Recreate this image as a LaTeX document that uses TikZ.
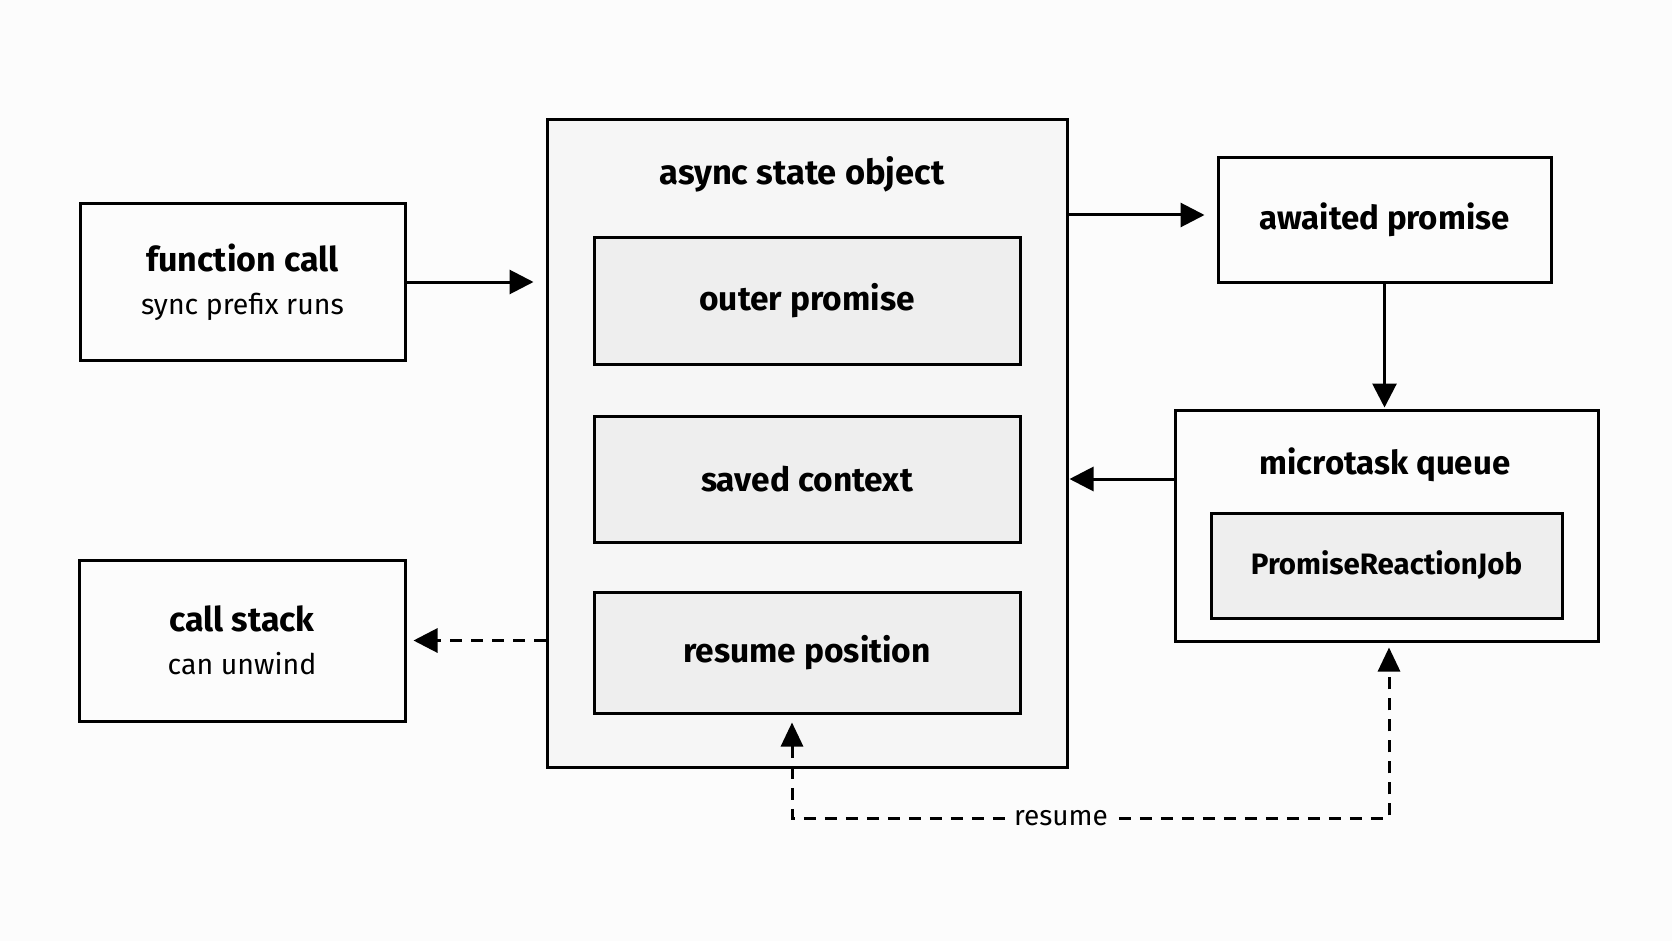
\documentclass[tikz,border=0pt]{standalone}
\usepackage{fontspec}
\setmainfont{Fira Sans}
\usetikzlibrary{arrows.meta}
\definecolor{bgc}{HTML}{FCFCFC}
\definecolor{outerfill}{HTML}{F6F6F6}
\definecolor{innerfill}{HTML}{EEEEEE}
\tikzset{
  box/.style={draw=black, line width=3pt, rectangle, inner sep=0pt, fill=bgc},
  bigbox/.style={box, fill=outerfill},
  innerbox/.style={box, fill=innerfill, font=\fontsize{33.5}{40}\selectfont\bfseries},
  titletext/.style={font=\fontsize{34.5}{40}\selectfont\bfseries, inner sep=0pt},
  twoline/.style={box, align=center, font=\fontsize{28.5}{43}\selectfont},
  arr/.style={line width=3pt, -{Triangle[length=24pt,width=24pt]}},
  dasharr/.style={line width=3pt, dash pattern=on 12pt off 9pt}
}
\begin{document}
\begin{tikzpicture}[x=1pt,y=-1pt]
\useasboundingbox[fill=bgc] (0,0) rectangle (1672,941);

% left boxes
\node[twoline, minimum width=325pt, minimum height=156pt] (fcall) at (242.5,282)
  {{\fontsize{34}{43}\selectfont\bfseries function call}\\sync prefix runs};
\node[twoline, minimum width=326pt, minimum height=161pt] (cstack) at (242,640.5)
  {{\fontsize{34}{43}\selectfont\bfseries call stack}\\can unwind};

% async state object
\node[bigbox, minimum width=520pt, minimum height=647pt] (async) at (807,443.5) {};
\node[titletext] (asynctitle) at (802,174) {async state object};
\node[innerbox, minimum width=426pt, minimum height=126pt] (outer) at (807,301) {outer promise};
\node[innerbox, minimum width=426pt, minimum height=126pt] (saved) at (807,479) {saved context};
\node[innerbox, minimum width=426pt, minimum height=121pt] (resumepos) at (807,652.5) {resume position};

% right side
\node[box, minimum width=333pt, minimum height=124pt, font=\fontsize{33}{40}\selectfont\bfseries] (awaited) at (1384.5,220) {awaited promise};
\node[box, minimum width=423pt, minimum height=231pt] (micro) at (1386.5,525.5) {};
\node[titletext, font=\fontsize{33}{40}\selectfont\bfseries] (microtitle) at (1385,465) {microtask queue};
\node[box, fill=innerfill, minimum width=351pt, minimum height=105pt, font=\fontsize{29.5}{34}\selectfont\bfseries] (job) at (1386.5,565.5) {PromiseReactionJob};

% connectors
\draw[arr, shorten >=12pt] (fcall.east) -- (fcall.east -| async.west);
\draw[arr, shorten >=12pt] (async.east |- 0,215) -- (awaited.west |- 0,215);
\draw[arr, shorten >=1pt] (awaited.south) -- (awaited.south |- micro.north);
\draw[arr, shorten >=1pt] (micro.west |- saved) -- (async.east |- saved);
\draw[dasharr, -{Triangle[length=24pt,width=24pt]}, shorten >=7pt] (async.west |- cstack) -- (cstack.east);

\coordinate (lb) at (792,818);
\coordinate (rb) at (1389,818);
\draw[dasharr, {Triangle[length=24pt,width=22pt]}-{Triangle[length=24pt,width=22pt]}, shorten <=8pt, shorten >=5pt]
  (resumepos.south -| lb) -- (lb) -- (rb) -- (micro.south -| rb);
\node[fill=bgc, inner xsep=8pt, inner ysep=2pt, font=\fontsize{28}{32}\selectfont] (resumelbl) at (1061,818) {resume};
\end{tikzpicture}
\end{document}
